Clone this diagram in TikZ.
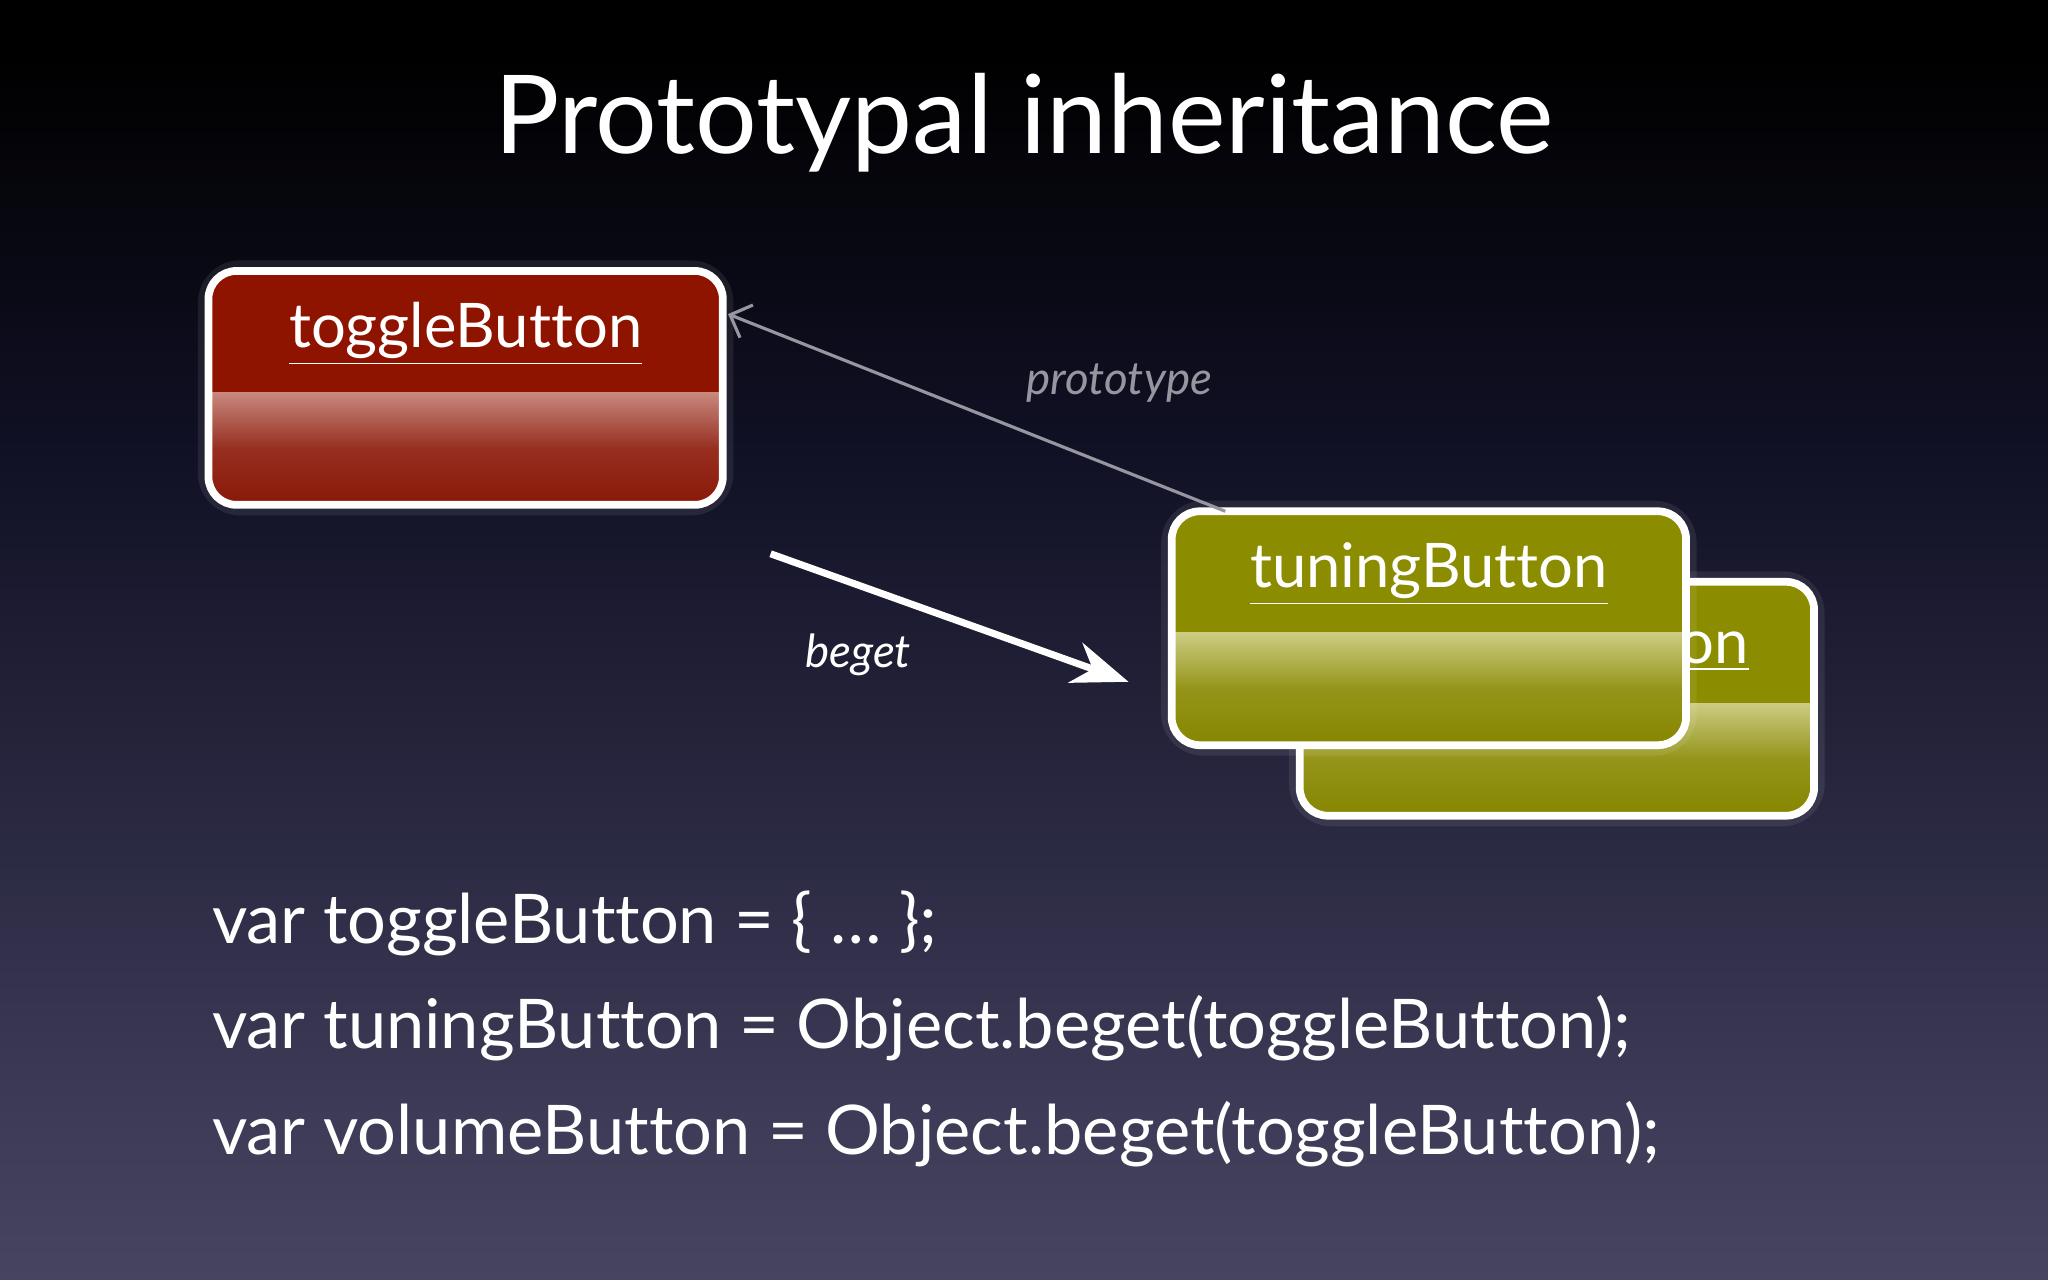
\documentclass[tikz,border=0pt]{standalone}
\usepackage{fontspec}
\setmainfont{Lato}[Ligatures=NoCommon]
\usetikzlibrary{calc,arrows.meta}
\definecolor{bgbot}{RGB}{106,106,126}
\definecolor{bgmid}{RGB}{60,58,86}
\definecolor{bgup}{RGB}{16,16,36}
\definecolor{redtop}{RGB}{142,20,0}
\definecolor{redlight}{RGB}{200,136,126}
\definecolor{reddark}{RGB}{138,24,8}
\definecolor{oltop}{RGB}{140,140,0}
\definecolor{ollight}{RGB}{204,204,130}
\definecolor{oldark}{RGB}{134,134,0}
\definecolor{protogray}{RGB}{150,150,160}
\pgfdeclareverticalshading{bgshade}{100bp}{color(0bp)=(bgbot); color(32bp)=(bgmid); color(58bp)=(bgup); color(73bp)=(black); color(100bp)=(black)}
\tikzset{
  boxframe/.style={draw=none, minimum width=5.13cm, minimum height=2.325cm, inner sep=0pt, rounded corners=8pt},
  boxborder/.style={draw=white, line width=2.2pt, rounded corners=8pt},
  glow/.style={draw=white, opacity=0.08, line width=6pt, rounded corners=9pt},
  boxtitle/.style={text=white, font=\fontsize{17.5}{20}\selectfont, inner sep=0pt},
  codeline/.style={text=white, font=\fontsize{19.5}{23}\selectfont, anchor=base west, inner sep=0pt},
  lbl/.style={font=\itshape\fontsize{13}{15}\selectfont, inner sep=0pt}
}
\newcommand{\drawbox}[5]{% name, top, light, dark, title
  \draw[glow] (#1.south west) rectangle (#1.north east);
  \fill[#2, rounded corners=8pt] (#1.south west) rectangle (#1.north east);
  \begin{scope}
    \clip[rounded corners=8pt] (#1.south west) rectangle (#1.north east);
    \shade[top color=#3, bottom color=#4, middle color=#4!80!#3] (#1.south west) rectangle ($(#1.north east)+(0,93)$);
  \end{scope}
  \draw[boxborder] (#1.south west) rectangle (#1.north east);
  \node[boxtitle] (#1t) at ($(#1.north)+(0,48)$) {\underline{#5}};
}
\begin{document}
\begin{tikzpicture}[x=0.01306cm, y=-0.01306cm]
\useasboundingbox (0,0) rectangle (1568,980);
\shade[shading=bgshade] (0,0) rectangle (1568,980);
\node[text=white, font=\fontsize{31}{36}\selectfont, inner sep=0pt] (title) at (784,94) {Prototypal inheritance};

\node[boxframe] (toggle) at (356.5,297) {};
\drawbox{toggle}{redtop}{redlight}{reddark}{toggleButton}

\node[boxframe] (volume) at (1192,535) {};
\drawbox{volume}{oltop}{ollight}{oldark}{volumeButton}
\node[boxframe] (tuning) at (1094,481) {};
\drawbox{tuning}{oltop}{ollight}{oldark}{tuningButton}

\draw[protogray, line width=0.9pt, -{Straight Barb[length=5pt]}] ($(tuning.north west)+(41,0)$) -- ($(toggle.north east)+(4,33)$);
\node[lbl, text=protogray] (plbl) at (857,293) {prototype};

\coordinate (bs) at (590,424);
\coordinate (be) at (864,522);
\draw[white, line width=2pt, -{Stealth[length=16pt, width=12pt]}] (bs) -- (be);
\node[lbl, text=white] (blbl) at (657,501) {beget};

\node[codeline] (c1) at (162,722) {var toggleButton = \{ … \};};
\node[codeline] (c2) at (162,803) {var tuningButton = Object.beget(toggleButton);};
\node[codeline] (c3) at (162,884) {var volumeButton = Object.beget(toggleButton);};
\end{tikzpicture}
\end{document}
